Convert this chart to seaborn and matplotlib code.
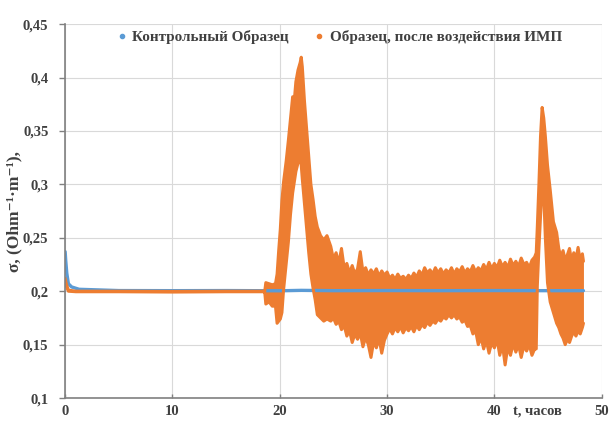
import numpy as np
import pandas as pd
import seaborn as sns
import matplotlib.pyplot as plt
from matplotlib.lines import Line2D

# control sample (blue)
ctrl_t = [0.0, 0.05, 0.15, 0.3, 0.6, 1.3, 5, 10, 15, 20, 22, 25, 30, 35, 40, 45, 48.3]
ctrl_v = [0.237, 0.229, 0.217, 0.207, 0.204, 0.2018, 0.2006, 0.2005, 0.2006, 0.2004, 0.2008,
          0.2005, 0.2006, 0.2005, 0.2006, 0.2005, 0.2005]

# sample after exposure (orange): lower / upper envelope of the point cloud
imp_t = [0.0, 0.1, 0.3, 1.0, 5.0, 10.0, 15.0, 18.5,
         18.6, 18.7, 19.0, 19.3, 19.6, 19.75, 19.9, 20.05, 20.2, 20.35, 20.6, 20.8,
         21.0, 21.2, 21.35, 21.5, 21.7, 21.9, 22.0, 22.1, 22.3, 22.5, 22.7, 22.9,
         23.1, 23.3, 23.5, 23.8, 24.1, 24.4,
         24.75, 25.0, 25.25, 25.5, 25.75, 26.0, 26.25, 26.5, 26.75, 27.0, 27.25, 27.5,
         27.75, 28.0, 28.25, 28.5, 28.75, 29.0, 29.25, 29.5, 29.75, 30.0, 30.25, 30.5,
         30.75, 31.0, 31.25, 31.5, 31.75, 32.0, 32.25, 32.5, 32.75, 33.0, 33.25, 33.5,
         33.75, 34.0, 34.25, 34.5, 34.75, 35.0, 35.25, 35.5, 35.75, 36.0, 36.25, 36.5,
         36.75, 37.0, 37.25, 37.5, 37.75, 38.0, 38.25, 38.5, 38.75, 39.0, 39.25, 39.5,
         39.75, 40.0, 40.25, 40.5, 40.75, 41.0, 41.25, 41.5, 41.75, 42.0, 42.25, 42.5,
         42.75, 43.0, 43.25, 43.5, 43.75,
         43.9, 44.0, 44.15, 44.3, 44.45, 44.6, 44.75, 44.95,
         45.2, 45.5, 45.8, 46.0, 46.2, 46.4, 46.6, 46.8, 47.0, 47.2, 47.4, 47.6,
         47.8, 48.0, 48.2, 48.3]
imp_lo = [0.210, 0.205, 0.2, 0.1995, 0.1995, 0.1992, 0.1995, 0.1995,
          0.199, 0.188, 0.190, 0.186, 0.186, 0.170, 0.172, 0.174, 0.180, 0.201, 0.226, 0.246,
          0.272, 0.292, 0.302, 0.312, 0.320, 0.325, 0.318, 0.305, 0.282, 0.258, 0.236, 0.216,
          0.203, 0.192, 0.178, 0.175, 0.172, 0.174,
          0.172, 0.175, 0.169, 0.172, 0.164, 0.168, 0.158, 0.163, 0.152, 0.160, 0.155, 0.161,
          0.148, 0.157, 0.150, 0.138, 0.153, 0.147, 0.156, 0.142, 0.154, 0.160, 0.165, 0.160,
          0.166, 0.162, 0.167, 0.161, 0.166, 0.163, 0.167, 0.162, 0.168, 0.164, 0.169, 0.166,
          0.171, 0.168, 0.172, 0.170, 0.174, 0.172, 0.176, 0.174, 0.178, 0.175, 0.178, 0.174,
          0.176, 0.171, 0.173, 0.167, 0.168, 0.160, 0.163, 0.150, 0.157, 0.146, 0.154, 0.142,
          0.152, 0.147, 0.155, 0.140, 0.150, 0.131, 0.148, 0.140, 0.151, 0.143, 0.150, 0.138,
          0.149, 0.144, 0.150, 0.140, 0.146,
          0.146, 0.205, 0.240, 0.270, 0.300, 0.290, 0.250, 0.208,
          0.190, 0.180, 0.170, 0.166, 0.160, 0.156, 0.150, 0.155, 0.152, 0.158, 0.162, 0.158,
          0.163, 0.160, 0.166, 0.170]
imp_hi = [0.212, 0.207, 0.201, 0.2, 0.2, 0.1998, 0.2, 0.2,
          0.200, 0.208, 0.207, 0.206, 0.207, 0.216, 0.238, 0.258, 0.285, 0.302, 0.322, 0.341,
          0.362, 0.382, 0.378, 0.396, 0.407, 0.414, 0.419, 0.410, 0.378, 0.352, 0.325, 0.300,
          0.286, 0.270, 0.260, 0.252, 0.248, 0.252,
          0.242, 0.230, 0.236, 0.226, 0.240, 0.222, 0.226, 0.217, 0.224, 0.216, 0.221, 0.237,
          0.218, 0.222, 0.215, 0.220, 0.216, 0.221, 0.214, 0.219, 0.215, 0.218, 0.212, 0.215,
          0.211, 0.216, 0.212, 0.214, 0.211, 0.215, 0.212, 0.217, 0.213, 0.219, 0.215, 0.222,
          0.217, 0.220, 0.216, 0.222, 0.217, 0.221, 0.216, 0.220, 0.217, 0.222, 0.216, 0.221,
          0.218, 0.223, 0.217, 0.221, 0.218, 0.224, 0.218, 0.222, 0.219, 0.225, 0.220, 0.227,
          0.221, 0.226, 0.222, 0.229, 0.223, 0.227, 0.222, 0.230, 0.224, 0.228, 0.223, 0.231,
          0.225, 0.227, 0.222, 0.229, 0.232,
          0.236, 0.260, 0.300, 0.345, 0.372, 0.362, 0.345, 0.318,
          0.295, 0.265, 0.255, 0.240, 0.232, 0.238, 0.229, 0.234, 0.240, 0.228, 0.236, 0.230,
          0.241, 0.229, 0.235, 0.228]

x_ticks = [0, 10, 20, 30, 40, 50]
y_ticks = [0.1, 0.15, 0.2, 0.25, 0.3, 0.35, 0.4, 0.45]
y_tick_labels = ['0,1', '0,15', '0,2', '0,25', '0,3', '0,35', '0,4', '0,45']

series_names = ['Контрольный Образец', 'Образец, после воздействия ИМП']
blue = '#5B9BD5'
orange = '#ED7D31'
txt = '#404040'

sns.set_theme(style='white')
plt.rcParams['font.family'] = ['Liberation Serif', 'DejaVu Serif']
plt.rcParams['font.weight'] = 'bold'

ctrl = pd.DataFrame({'t': ctrl_t, 'v': ctrl_v})
imp = pd.DataFrame({'t': imp_t, 'lo': imp_lo, 'hi': imp_hi})

fig = plt.figure(figsize=(6.09, 4.23), dpi=100)
ax = fig.add_axes([0.107, 0.059, 0.881, 0.884])

sns.lineplot(data=ctrl, x='t', y='v', color=blue, lw=2.4, ax=ax)
ax.fill_between(imp['t'], imp['lo'], imp['hi'], color=orange, lw=0)
sns.lineplot(data=imp, x='t', y='lo', color=orange, lw=2.2, ax=ax)
sns.lineplot(data=imp, x='t', y='hi', color=orange, lw=2.2, ax=ax)

ax.set_xlim(0, 50)
ax.set_ylim(0.1, 0.45)
ax.set_xticks(x_ticks)
ax.set_yticks(y_ticks)
ax.set_yticklabels(y_tick_labels)
ax.grid(True, color='#D9D9D9', lw=0.8)
ax.set_axisbelow(True)
for s in ['top', 'right']:
    ax.spines[s].set_visible(False)
for s in ['left', 'bottom']:
    ax.spines[s].set_color('#808080')
    ax.spines[s].set_linewidth(1.2)
ax.tick_params(axis='y', left=True, length=4, width=1, color='#808080',
               labelsize=10.5, labelcolor=txt, pad=8)
ax.tick_params(axis='x', bottom=True, length=3, direction='in', width=1,
               color='#808080', labelsize=10.5, labelcolor=txt, pad=5)

ax.set_ylabel('σ, (Ohm⁻¹·m⁻¹),', fontsize=12.5, color=txt, fontweight='bold')
ax.yaxis.set_label_coords(-0.08, 0.5)
ax.set_xlabel('t, часов', fontsize=10.5, color=txt, fontweight='bold')
ax.xaxis.set_label_coords(0.88, -0.018)
ax.xaxis.label.set_va('top')

handles = [Line2D([], [], ls='', marker='o', ms=3, color=blue),
           Line2D([], [], ls='', marker='o', ms=3, color=orange)]
leg = ax.legend(handles, series_names, loc='center', bbox_to_anchor=(0.51, 0.966),
                ncol=2, frameon=False, fontsize=10.9, handlelength=0.8,
                handletextpad=0.3, columnspacing=1.6)
for t in leg.get_texts():
    t.set_color(txt)

fig.savefig('out.png', dpi=100)
